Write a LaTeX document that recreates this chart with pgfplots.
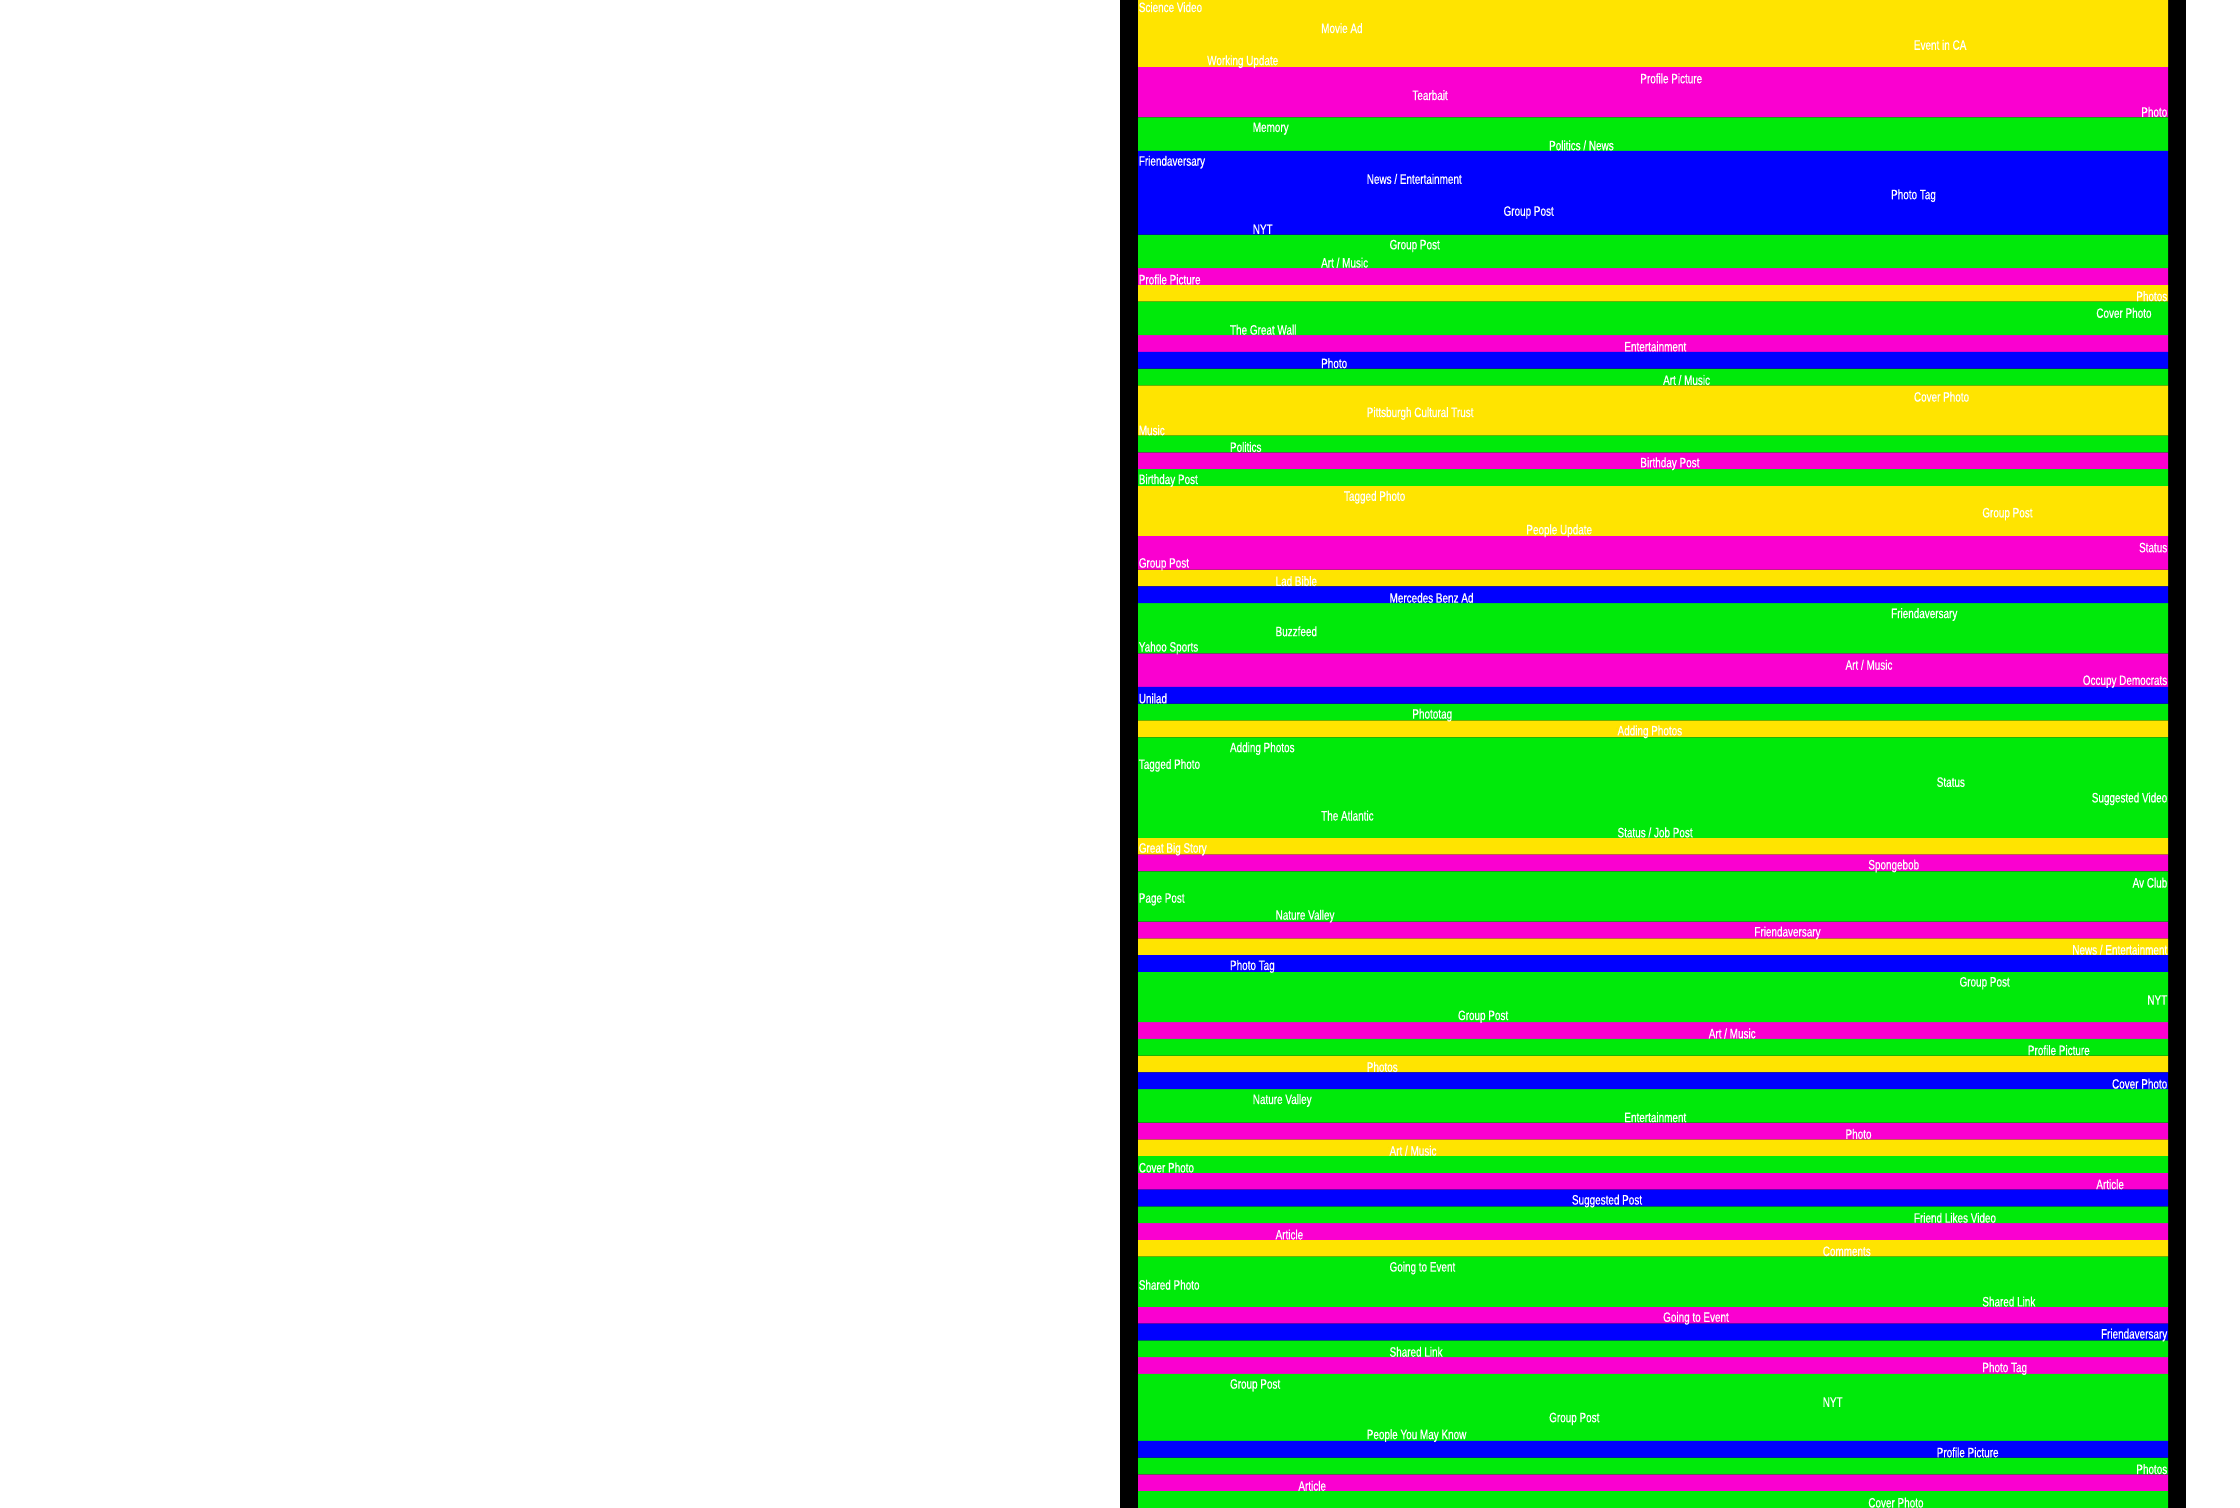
\documentclass[border=0pt]{standalone}
\usepackage{pgfplots}
\pgfplotsset{compat=1.18}
\usepackage{fontspec}
\newfontfamily\labfont[FakeStretch=0.73,FakeBold=0.6]{Liberation Sans}
\definecolor{cY}{HTML}{FFE400}
\definecolor{cM}{HTML}{FA00D0}
\definecolor{cG}{HTML}{00EA0A}
\definecolor{cB}{HTML}{0000FF}
\begin{document}
\begin{tikzpicture}[x=1pt,y=1pt]
\path[use as bounding box] (0,0) rectangle (560,377);
\fill[white] (0,0) rectangle (560,377);
\fill[black] (280,0) rectangle (546.5,377);
\begin{axis}[at={(284.5pt,0pt)}, anchor=south west,
  width=257.5pt, height=377pt, scale only axis,
  xmin=0, xmax=45.18, ymin=0.5, ymax=90.5, y dir=reverse,
  enlargelimits=false, axis lines=none, clip=false,
  labstyle/.style={only marks, mark=*, mark size=0pt, mark options={draw=none,fill=none},
    nodes near coords, point meta=explicit symbolic,
    every node near coord/.append style={inner sep=0pt, text=white, yshift=-0.75pt,
      font=\labfont\fontsize{3.4pt}{3.8pt}\selectfont}},
  barstyle/.style={xbar, draw=none, bar width=1, bar shift=0pt}]
\addplot[barstyle, fill=cY] coordinates {
(45.18,1) (45.18,2) (45.18,3) (45.18,4) (45.18,18) (45.18,24) (45.18,25) (45.18,26)
(45.18,30) (45.18,31) (45.18,32) (45.18,35) (45.18,44) (45.18,51) (45.18,57) (45.18,64)
(45.18,69) (45.18,75)};
\addplot[barstyle, fill=cM] coordinates {
(45.18,5) (45.18,6) (45.18,7) (45.18,17) (45.18,21) (45.18,28) (45.18,33) (45.18,34)
(45.18,40) (45.18,41) (45.18,52) (45.18,56) (45.18,62) (45.18,68) (45.18,71) (45.18,74)
(45.18,79) (45.18,82) (45.18,89)};
\addplot[barstyle, fill=cG] coordinates {
(45.18,8) (45.18,9) (45.18,15) (45.18,16) (45.18,19) (45.18,20) (45.18,23) (45.18,27)
(45.18,29) (45.18,37) (45.18,38) (45.18,39) (45.18,43) (45.18,45) (45.18,46) (45.18,47)
(45.18,48) (45.18,49) (45.18,50) (45.18,53) (45.18,54) (45.18,55) (45.18,59) (45.18,60)
(45.18,61) (45.18,63) (45.18,66) (45.18,67) (45.18,70) (45.18,73) (45.18,76) (45.18,77)
(45.18,78) (45.18,81) (45.18,83) (45.18,84) (45.18,85) (45.18,86) (45.18,88) (45.18,90)};
\addplot[barstyle, fill=cB] coordinates {
(45.18,10) (45.18,11) (45.18,12) (45.18,13) (45.18,14) (45.18,22) (45.18,36) (45.18,42)
(45.18,58) (45.18,65) (45.18,72) (45.18,80) (45.18,87)};
\addplot[labstyle, every node near coord/.append style={anchor=west}]
 table[x=x, y=y, meta=lab, col sep=comma, row sep=\\] {
x,y,lab\\
0,0.75,Science Video\\
8,2,Movie Ad\\
34,3,Event in CA\\
3,4,Working Update\\
22,5,Profile Picture\\
12,6,Tearbait\\
5,8,Memory\\
18,9,Politics / News\\
0,10,Friendaversary\\
10,11,News / Entertainment\\
33,12,Photo Tag\\
16,13,Group Post\\
5,14,NYT\\
11,15,Group Post\\
8,16,Art / Music\\
0,17,Profile Picture\\
42,19,Cover Photo\\
4,20,The Great Wall\\
21.3,21,Entertainment\\
8,22,Photo\\
23,23,Art / Music\\
34,24,Cover Photo\\
10,25,Pittsburgh Cultural Trust\\
0,26,Music\\
4,27,Politics\\
22,28,Birthday Post\\
0,29,Birthday Post\\
9,30,Tagged Photo\\
37,31,Group Post\\
17,32,People Update\\
0,34,Group Post\\
6,35,Lad Bible\\
11,36,Mercedes Benz Ad\\
33,37,Friendaversary\\
6,38,Buzzfeed\\
0,39,Yahoo Sports\\
31,40,Art / Music\\
0,42,Unilad\\
12,43,Phototag\\
21,44,Adding Photos\\
4,45,Adding Photos\\
0,46,Tagged Photo\\
35,47,Status\\
8,49,The Atlantic\\
21,50,Status / Job Post\\
0,51,Great Big Story\\
32,52,Spongebob\\
0,54,Page Post\\
6,55,Nature Valley\\
27,56,Friendaversary\\
4,58,Photo Tag\\
36,59,Group Post\\
14,61,Group Post\\
25,62,Art / Music\\
39,63,Profile Picture\\
10,64,Photos\\
5,66,Nature Valley\\
21.3,67,Entertainment\\
31,68,Photo\\
11,69,Art / Music\\
0,70,Cover Photo\\
42,71,Article\\
19,72,Suggested Post\\
34,73,Friend Likes Video\\
6,74,Article\\
30,75,Comments\\
11,76,Going to Event\\
0,77,Shared Photo\\
37,78,Shared Link\\
23,79,Going to Event\\
11,81,Shared Link\\
37,82,Photo Tag\\
4,83,Group Post\\
30,84,NYT\\
18,85,Group Post\\
10,86,People You May Know\\
35,87,Profile Picture\\
7,89,Article\\
32,90,Cover Photo\\
};
\addplot[labstyle, every node near coord/.append style={anchor=east}]
 table[x=x, y=y, meta=lab, col sep=comma, row sep=\\] {
x,y,lab\\
45.18,7,Photo\\
45.18,18,Photos\\
45.18,33,Status\\
45.18,41,Occupy Democrats\\
45.18,48,Suggested Video\\
45.18,53,Av Club\\
45.18,57,News / Entertainment\\
45.18,60,NYT\\
45.18,65,Cover Photo\\
45.18,80,Friendaversary\\
45.18,88,Photos\\
};
\end{axis}
\end{tikzpicture}
\end{document}
